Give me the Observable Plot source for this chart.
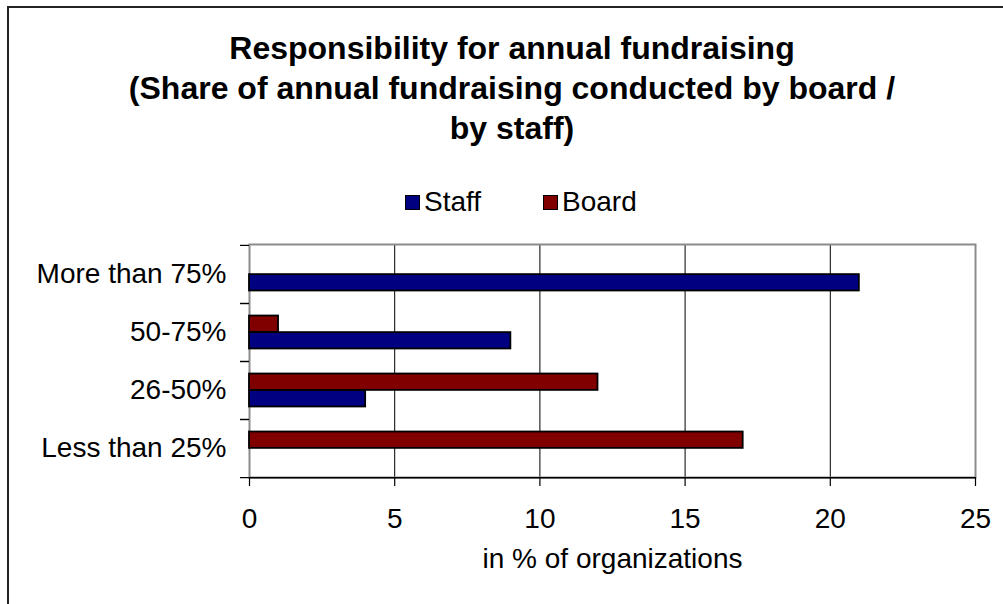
<!DOCTYPE html>
<html>
<head>
<meta charset="utf-8">
<script src="https://cdn.jsdelivr.net/npm/d3@7"></script>
<script src="https://cdn.jsdelivr.net/npm/@observablehq/plot@0.6"></script>
<style>
  body { margin: 0; background: #fff; }
  #wrap { position: relative; width: 1003px; height: 604px; overflow: hidden; background: #fff;
          font-family: Arial, "Liberation Sans", sans-serif; color: #000; }
  #border { position: absolute; left: 7px; top: 6px; width: 1100px; height: 700px;
            border-left: 2px solid #222; border-top: 2px solid #222; }
  #title { position: absolute; left: 0; top: 28px; width: 1024px; text-align: center;
           font-weight: bold; font-size: 32px; line-height: 40px; margin: 0; }
  .leg { position: absolute; top: 187px; height: 30px; line-height: 30px; font-size: 28px; }
  .sw { position: absolute; top: 8px; width: 13px; height: 13px; border: 1.5px solid #000; }
  #plot { position: absolute; left: 0; top: 225px; }
</style>
</head>
<body>
<div id="wrap">
  <div id="border"></div>
  <div id="title"></div>
  <div id="legend"></div>
  <div id="plot"></div>
</div>
<script>
const titleLines = ["Responsibility for annual fundraising", "(Share of annual fundraising conducted by board /", "by staff)"];
const categories = ["More than 75%", "50-75%", "26-50%", "Less than 25%"];
const seriesNames = ["Staff", "Board"];
const staffValues = [21, 9, 4, 0];
const boardValues = [0, 1, 12, 17];
const xTicks = [0, 5, 10, 15, 20, 25];
const xLabel = "in % of organizations";
const colors = {Staff: "#000080", Board: "#800000"};

// Title
const t = document.getElementById("title");
titleLines.forEach((line, i) => {
  const d = document.createElement("div");
  d.textContent = line;
  t.appendChild(d);
});

// Legend
const legendPos = {Staff: 405, Board: 543};
const lg = document.getElementById("legend");
seriesNames.forEach(name => {
  const item = document.createElement("div");
  item.className = "leg";
  item.style.left = legendPos[name] + "px";
  const sw = document.createElement("div");
  sw.className = "sw";
  sw.style.left = "0px";
  sw.style.background = colors[name];
  const tx = document.createElement("span");
  tx.textContent = name;
  tx.style.marginLeft = "19px";
  item.appendChild(sw);
  item.appendChild(tx);
  lg.appendChild(item);
});

const rows = (vals, series) => categories.map((c, i) => ({category: c, series, value: vals[i]})).filter(d => d.value > 0);
const staffRows = rows(staffValues, "Staff");
const boardRows = rows(boardValues, "Board");

const W = 1003, H = 379, mT = 19, mB = 127, mL = 249, mR = 28;
const plotH = H - mT - mB;
const bw = plotH / categories.length;
const barH = bw * 0.285;

const chart = Plot.plot({
  width: W, height: H,
  marginLeft: mL, marginRight: mR, marginTop: mT, marginBottom: mB,
  style: {fontSize: "28px", fontFamily: "Arial, 'Liberation Sans', sans-serif", color: "#000", background: "transparent", overflow: "visible"},
  x: {domain: [0, 25], ticks: xTicks, label: null},
  y: {domain: categories, padding: 0, label: null},
  marks: [
    Plot.gridX(xTicks.slice(1, -1), {stroke: "#000", strokeOpacity: 1, strokeWidth: 1}),
    Plot.frame({stroke: "#8c8c8c", strokeWidth: 2}),
    Plot.barX(boardRows, {x: "value", y: "category", fill: colors.Board, stroke: "#000", strokeWidth: 1.8,
      insetTop: bw / 2 - barH, insetBottom: bw / 2}),
    Plot.barX(staffRows, {x: "value", y: "category", fill: colors.Staff, stroke: "#000", strokeWidth: 1.8,
      insetTop: bw / 2, insetBottom: bw / 2 - barH}),
    Plot.ruleY([categories[categories.length - 1]], {dy: bw / 2, stroke: "#000", strokeWidth: 1.5}),
    Plot.axisX(xTicks, {tickSize: 9, tickPadding: 22, stroke: "#000", strokeWidth: 1.2}),
    Plot.axisY({tickSize: 0, tickPadding: 23}),
    Plot.axisY({text: null, tickSize: 9, dy: -bw / 2, stroke: "#000", strokeWidth: 1.2}),
    Plot.axisY({text: null, tickSize: 9, dy: bw / 2, stroke: "#000", strokeWidth: 1.2}),
    Plot.text([xLabel], {frameAnchor: "bottom", dy: 90, fontSize: 28})
  ]
});
document.getElementById("plot").appendChild(chart);
</script>
</body>
</html>
